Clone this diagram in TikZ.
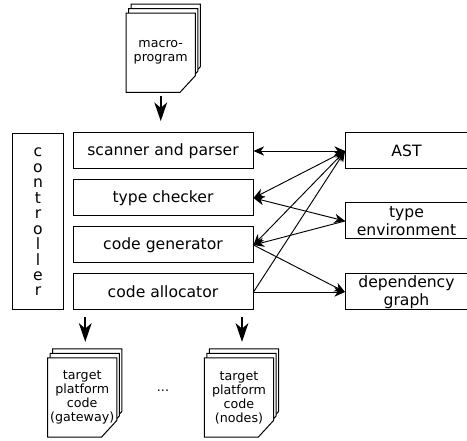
\documentclass[tikz,border=0pt]{standalone}
\usepackage{fontspec}
\setmainfont{DejaVu Sans}
\usetikzlibrary{arrows.meta,backgrounds}
\tikzset{
  box/.style={draw,line width=0.75pt,inner sep=0pt,minimum width=135pt,minimum height=27pt,align=center,font=\fontsize{11.7}{13.5}\selectfont},
  store/.style={box,minimum width=91.5pt},
  doc/.style={inner sep=0pt,minimum width=51.5pt,minimum height=59pt,align=center,font=\fontsize{9.5}{10.5}\selectfont},
  bigarrow/.style={line width=1.5pt,-{Stealth[length=14pt,width=9.5pt,inset=4pt]}},
  thinarrow/.style={line width=0.7pt,{Stealth[length=8pt,width=7pt,inset=2.5pt]}-{Stealth[length=8pt,width=7pt,inset=2.5pt]}},
  onearrow/.style={line width=0.7pt,-{Stealth[length=8pt,width=7pt,inset=2.5pt]}}
}
% three sheets with a cut corner behind a doc node
\newcommand{\sheets}[1]{
  \begin{pgfonlayer}{background}
  \foreach \d in {2,1,0}
    \draw[line width=0.75pt,fill=white]
      ([xshift=\d*1.875pt,yshift=\d*3.375pt]#1.north west)
      -- ([xshift=\d*1.875pt,yshift=\d*3.375pt]#1.north east)
      -- ([xshift=\d*1.875pt,yshift=\d*3.375pt+12.5pt]#1.south east)
      -- ([xshift=\d*1.875pt-11.5pt,yshift=\d*3.375pt]#1.south east)
      -- ([xshift=\d*1.875pt,yshift=\d*3.375pt]#1.south west) -- cycle;
  \end{pgfonlayer}
}
\begin{document}
\begin{tikzpicture}[x=0.75pt,y=-0.75pt,node distance=35.25pt]
   \useasboundingbox (0,0) rectangle (467,441);

   \node (macro) [doc] at (160.75,52.75) {macro-\\program};
   \sheets{macro}

   \node (scanner)   [box] at (163,151) {scanner and parser};
   \node (checker)   [box,below of=scanner] {type checker};
   \node (generator) [box,below of=checker] {code generator};
   \node (allocator) [box,below of=generator] {code allocator};

   \node (controller) [box,minimum width=38pt,minimum height=132pt,font=\fontsize{11.7}{11.6}\selectfont] at (38,222)
     {c\\o\\n\\t\\r\\o\\l\\l\\e\\r};

   \node (ast) [store] at (406.5,151) {AST};
   \node (env) [store] at (406.5,221) {type\\environment};
   \node (dep) [store] at (406.5,292) {dependency\\graph};

   \node (gateway) [doc] at (82.25,397.5) {target\\platform\\code\\(gateway)};
   \sheets{gateway}
   \node (nodes)   [doc] at (239,397.5) {target\\platform\\code\\(nodes)};
   \sheets{nodes}
   \node (dots)    [font=\fontsize{9.5}{10}\selectfont] at (163,391) {...};

   \path[bigarrow]
     ([yshift=-2.5pt]macro.south) edge ([yshift=8.5pt]macro.south |- scanner.north)
     ([xshift=2.25pt,yshift=-4.5pt]gateway.north |- allocator.south) edge ([xshift=2.25pt,yshift=12pt]gateway.north)
     ([xshift=2.25pt,yshift=-4.5pt]nodes.north |- allocator.south) edge ([xshift=2.25pt,yshift=12pt]nodes.north);

   \path[thinarrow]
     (scanner) edge (ast.west)
     (checker.east) edge (ast.west)
     (checker.east) edge (env.west)
     (generator.east) edge (ast.west);

   \path[onearrow]
     (env.west) edge (generator.east)
     (generator.east) edge (dep.west)
     (allocator.east) edge (ast.west)
     (allocator.east) edge (dep.west);
\end{tikzpicture}
\end{document}
